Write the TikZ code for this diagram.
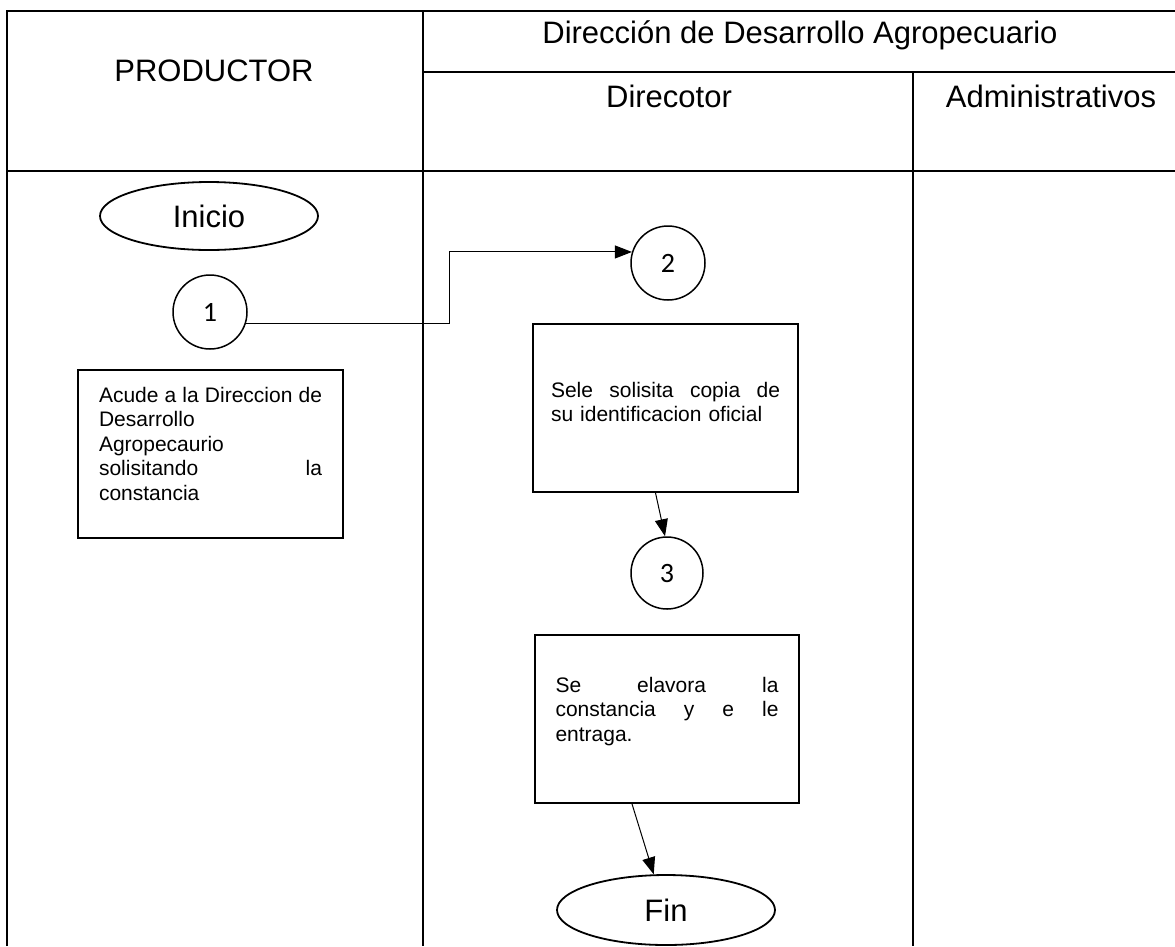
\documentclass[tikz,border=0pt]{standalone}
\usepackage{fontspec}
\setmainfont{Liberation Sans}
\newfontfamily\numfont{Carlito}
\usetikzlibrary{shapes.geometric,arrows.meta}
\begin{document}
\begin{tikzpicture}[x=1pt,y=-1pt,
  gridline/.style={line width=2pt},
  head/.style={font=\fontsize{31}{37}\selectfont, inner sep=0pt, anchor=base},
  term/.style={draw, line width=1.8pt, ellipse, minimum width=218pt, minimum height=68pt, inner sep=0pt, font=\fontsize{31}{37}\selectfont},
  conn/.style={draw, line width=1pt},
  tip/.style={-{Triangle[length=17pt,width=13pt]}},
  numc/.style={draw, circle, line width=1.5pt, minimum size=74pt, inner sep=0pt, font=\numfont\fontsize{28}{32}\selectfont},
  stepbox/.style={draw, rectangle, line width=1.8pt, minimum width=265pt, minimum height=168pt, inner sep=0pt, align=left, font=\fontsize{21}{24.5}\selectfont}
]
\useasboundingbox (0,0) rectangle (1175,946);
% table
\draw[gridline] (7,946) -- (7,11) -- (1175,11);
\draw[gridline] (423,11) -- (423,946);
\draw[gridline] (913,72) -- (913,946);
\draw[gridline] (423,72) -- (1175,72);
\draw[gridline] (7,171) -- (1175,171);
% headers
\node[head] (prod) at (214,81) {PRODUCTOR};
\node[head] (dda) at (800,43) {Dirección de Desarrollo Agropecuario};
\node[head] (dir) at (669,107) {Direcotor};
\node[head] (adm) at (1051,107) {Administrativos};
% flow
\node[term] (ini) at (209,216) {Inicio};
\node[numc] (c1) at (210,312) {1};
\node[stepbox, text width=223pt] (b1) at (210.5,454) {Acude\hfill a\hfill la\hfill Direccion\hfill de\\Desarrollo\\Agropecaurio\\solisitando\hfill la\\constancia\par\kern21pt};
\node[numc] (c2) at (668,263) {2};
\node[stepbox, text width=229pt] (b2) at (665.5,408) {Sele\hfill solisita\hfill copia\hfill de\\su identificacion oficial\par\kern12.5pt};
\node[numc, minimum size=72pt] (c3) at (667,573) {3};
\node[stepbox, text width=223pt, minimum width=264pt] (b3) at (667,719) {Se\hfill elavora\hfill la\\constancia\hfill y\hfill e\hfill le\\entraga.\par\kern15.6pt};
\node[term, minimum height=70pt] (fin) at (666,910) {Fin};
% connectors
\coordinate (k) at (449,0);
\draw[conn,tip] (c1.-17) -- (c1.-17 -| k) -- (c2.163 -| k) -- (c2.163);
\draw[conn,tip] ([xshift=-10pt]b2.south) -- ([xshift=-2pt]c3.north);
\draw[conn,tip] ([xshift=-35pt]b3.south) -- (fin.109);
\end{tikzpicture}
\end{document}
